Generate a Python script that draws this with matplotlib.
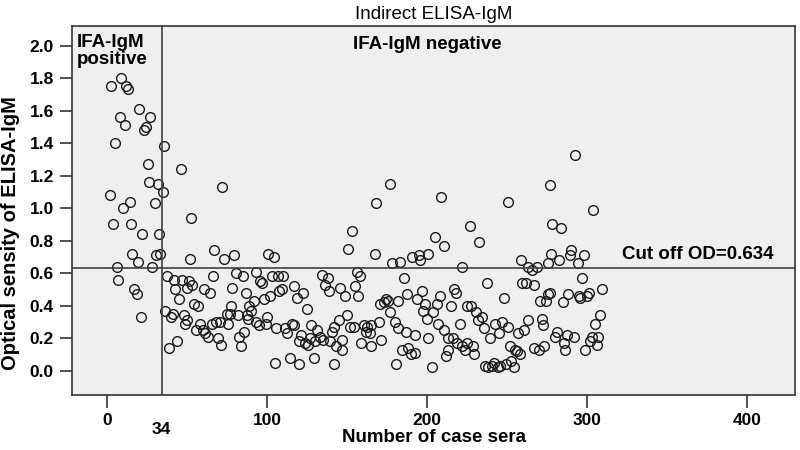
import matplotlib
matplotlib.use("Agg")
import matplotlib.pyplot as plt

# IFA-IgM positive sera (index, OD)
pos_index = [1.5, 2.5, 3.5, 4.6, 6, 7, 7.7, 8.8, 9.8, 11.25, 11.7, 13, 14, 14.8,
             15.8, 17, 18.5, 19, 20, 21, 22, 23.3, 24.4, 25.2, 26.2, 27, 28,
             29.6, 30.4, 31.5, 32.3, 33, 34.6, 35.4]
pos_od = [1.08, 1.75, 0.90, 1.40, 0.64, 0.56, 1.56, 1.80, 1.00, 1.51, 1.75, 1.73,
          1.04, 0.90, 0.72, 0.50, 0.47, 0.67, 1.61, 0.33, 0.84, 1.48, 1.50, 1.27,
          1.16, 1.56, 0.64, 1.03, 0.71, 1.15, 0.84, 0.72, 1.10, 1.38]

# IFA-IgM negative sera (index, OD)
neg_index = [36.3, 37.3, 38.75, 39.8, 41, 41.5, 42.5, 43.5, 44.6, 46, 46.6, 47.7,
             48.8, 49.8, 50, 51.4, 51.5, 52.5, 52.9, 54.4, 55.6, 57, 58.1, 59.8,
             60.6, 61.25, 63.3, 64.4, 65.4, 66, 66.9, 68, 69.2, 70.6, 71.25, 72,
             72.7, 74.8, 75.4, 76.9, 77.3, 78.3, 79.4, 80.4, 82, 82.5, 83.5, 84.6,
             85.6, 86.7, 87.3, 88.3, 88.75, 89.8, 91.9, 92.7, 93.1, 94.6, 95.6, 96.5,
             97.7, 99.2, 99.8, 100.4, 101.9, 102.7, 104.2, 105, 105.6, 107, 107.5,
             109.2, 110, 111.25, 112.3, 114, 115.4, 116.5, 116.9, 118.5, 119.6, 120,
             121, 122.3, 123.75, 124.8, 125.8, 126.9, 127.5, 129.4, 129.9, 131, 133,
             134, 135, 136.25, 138, 138.75, 139.4, 140.4, 141.5, 142, 143.1, 144.6,
             145.6, 146.7, 147, 148.75, 149.8, 150.8, 151.5, 153, 154, 154.6, 156,
             156.7, 158, 158.75, 160.2, 161.7, 162.3, 164, 164.8, 165, 167.5, 168,
             169.6, 170.6, 171.25, 172.7, 174.4, 175.4, 176.5, 177, 178.3, 180, 180.4,
             181.5, 182, 183, 184, 185.6, 186.7, 187.3, 188.3, 190, 190.4, 192.5,
             192.5, 193.5, 194.6, 195.6, 196.7, 197.3, 198.75, 199.6, 200.4, 200.8,
             203, 203.9, 205, 206, 207, 208, 208.75, 210.2, 210.8, 211.9, 212.9,
             213.3, 215, 216, 216.5, 218.1, 218.9, 220.2, 221.6, 222, 223.75, 224.8,
             224.8, 226.5, 227.3, 228.9, 229.4, 230.6, 232, 232.5, 234.2, 235.6,
             236.25, 237.3, 238.3, 239.4, 240.4, 241.9, 242.5, 244, 245, 245.6, 246.7,
             247.7, 249.4, 250.2, 250.8, 251.9, 252.3, 254, 255, 256, 256.7, 258,
             258.75, 259, 260.8, 261.9, 262.9, 263.3, 265.4, 266.5, 267, 268.5, 269.6,
             270.2, 271.7, 272.3, 273.3, 274.4, 275.2, 275.8, 276.5, 277, 277.5, 277.9,
             280, 281, 282.5, 283.5, 284.6, 285.2, 286.3, 287.3, 288.3, 289.4, 290,
             291.5, 292.5, 294, 294.6, 295.6, 296.7, 297.7, 298.75, 299.8, 301.4,
             301.9, 302.9, 303.5, 305, 306, 307, 308, 309]
neg_od = [0.37, 0.58, 0.14, 0.33, 0.35, 0.56, 0.50, 0.18, 0.44, 1.24, 0.56, 0.34,
          0.29, 0.31, 0.51, 0.55, 0.69, 0.94, 0.53, 0.41, 0.25, 0.40, 0.29, 0.25,
          0.50, 0.23, 0.21, 0.48, 0.29, 0.58, 0.74, 0.30, 0.20, 0.30, 0.16, 1.13,
          0.69, 0.35, 0.29, 0.35, 0.40, 0.51, 0.71, 0.60, 0.34, 0.21, 0.15, 0.58,
          0.24, 0.48, 0.34, 0.32, 0.40, 0.37, 0.43, 0.61, 0.30, 0.28, 0.55, 0.54,
          0.44, 0.29, 0.33, 0.72, 0.46, 0.58, 0.70, 0.05, 0.26, 0.58, 0.49,
          0.50, 0.58, 0.26, 0.23, 0.08, 0.29, 0.28, 0.52, 0.45, 0.18, 0.04,
          0.22, 0.48, 0.17, 0.38, 0.16, 0.20, 0.28, 0.08, 0.18, 0.25, 0.21,
          0.59, 0.19, 0.53, 0.57, 0.49, 0.18, 0.24, 0.04, 0.27, 0.15, 0.31,
          0.51, 0.19, 0.13, 0.46, 0.34, 0.75, 0.27, 0.86, 0.27, 0.52, 0.61,
          0.46, 0.58, 0.17, 0.28, 0.24, 0.27, 0.23, 0.28, 0.15, 0.72, 1.03,
          0.30, 0.41, 0.19, 0.42, 0.44, 0.43, 0.36, 1.15, 0.66, 0.30, 0.04,
          0.26, 0.43, 0.67, 0.13, 0.57, 0.24, 0.47, 0.14, 0.10, 0.70, 0.22,
          0.11, 0.44, 0.71, 0.68, 0.49, 0.37, 0.41, 0.32, 0.72, 0.20,
          0.02, 0.36, 0.82, 0.41, 0.29, 0.46, 1.07, 0.25, 0.77, 0.09, 0.13,
          0.20, 0.40, 0.20, 0.50, 0.48, 0.17, 0.29, 0.15, 0.64, 0.13, 0.40,
          0.17, 0.89, 0.40, 0.15, 0.10, 0.36, 0.31, 0.79, 0.33, 0.26,
          0.03, 0.54, 0.02, 0.20, 0.03, 0.05, 0.29, 0.02, 0.23, 0.03, 0.30,
          0.45, 0.04, 0.27, 1.04, 0.15, 0.06, 0.02, 0.13, 0.12, 0.23, 0.10,
          0.68, 0.54, 0.25, 0.54, 0.31, 0.64, 0.62, 0.14, 0.53, 0.64, 0.13,
          0.43, 0.32, 0.28, 0.15, 0.43, 0.66, 0.47, 0.48, 1.14, 0.72, 0.90,
          0.21, 0.24, 0.68, 0.88, 0.42, 0.17, 0.13, 0.22, 0.47, 0.71, 0.74,
          0.21, 1.33, 0.66, 0.46, 0.45, 0.57, 0.71, 0.13, 0.46, 0.48,
          0.18, 0.21, 0.99, 0.29, 0.16, 0.21, 0.34, 0.50]

cutoff = 0.634
n_positive = 34

plt.rcParams['font.family'] = ['Liberation Sans', 'DejaVu Sans']

fig = plt.figure(figsize=(8, 4.5), dpi=100)
ax = fig.add_axes([0.09, 0.122, 0.904, 0.82])
ax.set_facecolor('#efefef')

mk = dict(marker='o', linestyle='none', markersize=7, markerfacecolor='none',
          markeredgecolor='#1a1a1a', markeredgewidth=1.0)
ax.plot(pos_index, pos_od, **mk)
ax.plot(neg_index, neg_od, **mk)

ax.axhline(cutoff, color='#404040', lw=1.2)
ax.axvline(n_positive, color='#404040', lw=1.2)

ax.set_xlim(-22, 430)
ax.set_ylim(-0.15, 2.12)
ax.set_xticks([0, 100, 200, 300, 400])
ax.set_yticks([i / 10 for i in range(0, 21, 2)])
ax.set_yticklabels([f'{i / 10:.1f}' for i in range(0, 21, 2)])
ax.tick_params(direction='out', length=9, width=1.2, color='#333333',
               labelsize=12.5, pad=4)
for lab in ax.get_xticklabels() + ax.get_yticklabels():
    lab.set_fontweight('bold')
for s in ax.spines.values():
    s.set_color('#333333')
    s.set_linewidth(1.2)

ax.text(n_positive, -0.36, '34', ha='center', va='center', fontsize=12.5,
        fontweight='bold')
ax.set_xlabel('Number of case sera', fontsize=13.5, fontweight='bold')
ax.xaxis.set_label_coords(0.5, -0.092)
ax.set_ylabel('Optical sensity of ELISA-IgM', fontsize=14.5, fontweight='bold')
ax.yaxis.set_label_coords(-0.072, 0.44)
ax.set_title('Indirect ELISA-IgM', fontsize=13.5, pad=5)

ax.text(-19, 2.07, 'IFA-IgM\npositive', ha='left', va='top', fontsize=13.5,
        fontweight='bold', linespacing=0.95)
ax.text(200, 2.06, 'IFA-IgM negative', ha='center', va='top', fontsize=13.5,
        fontweight='bold')
ax.text(322, cutoff + 0.03, 'Cut off OD=0.634', ha='left', va='bottom',
        fontsize=13.5, fontweight='bold')

fig.savefig('out.png', dpi=100)
